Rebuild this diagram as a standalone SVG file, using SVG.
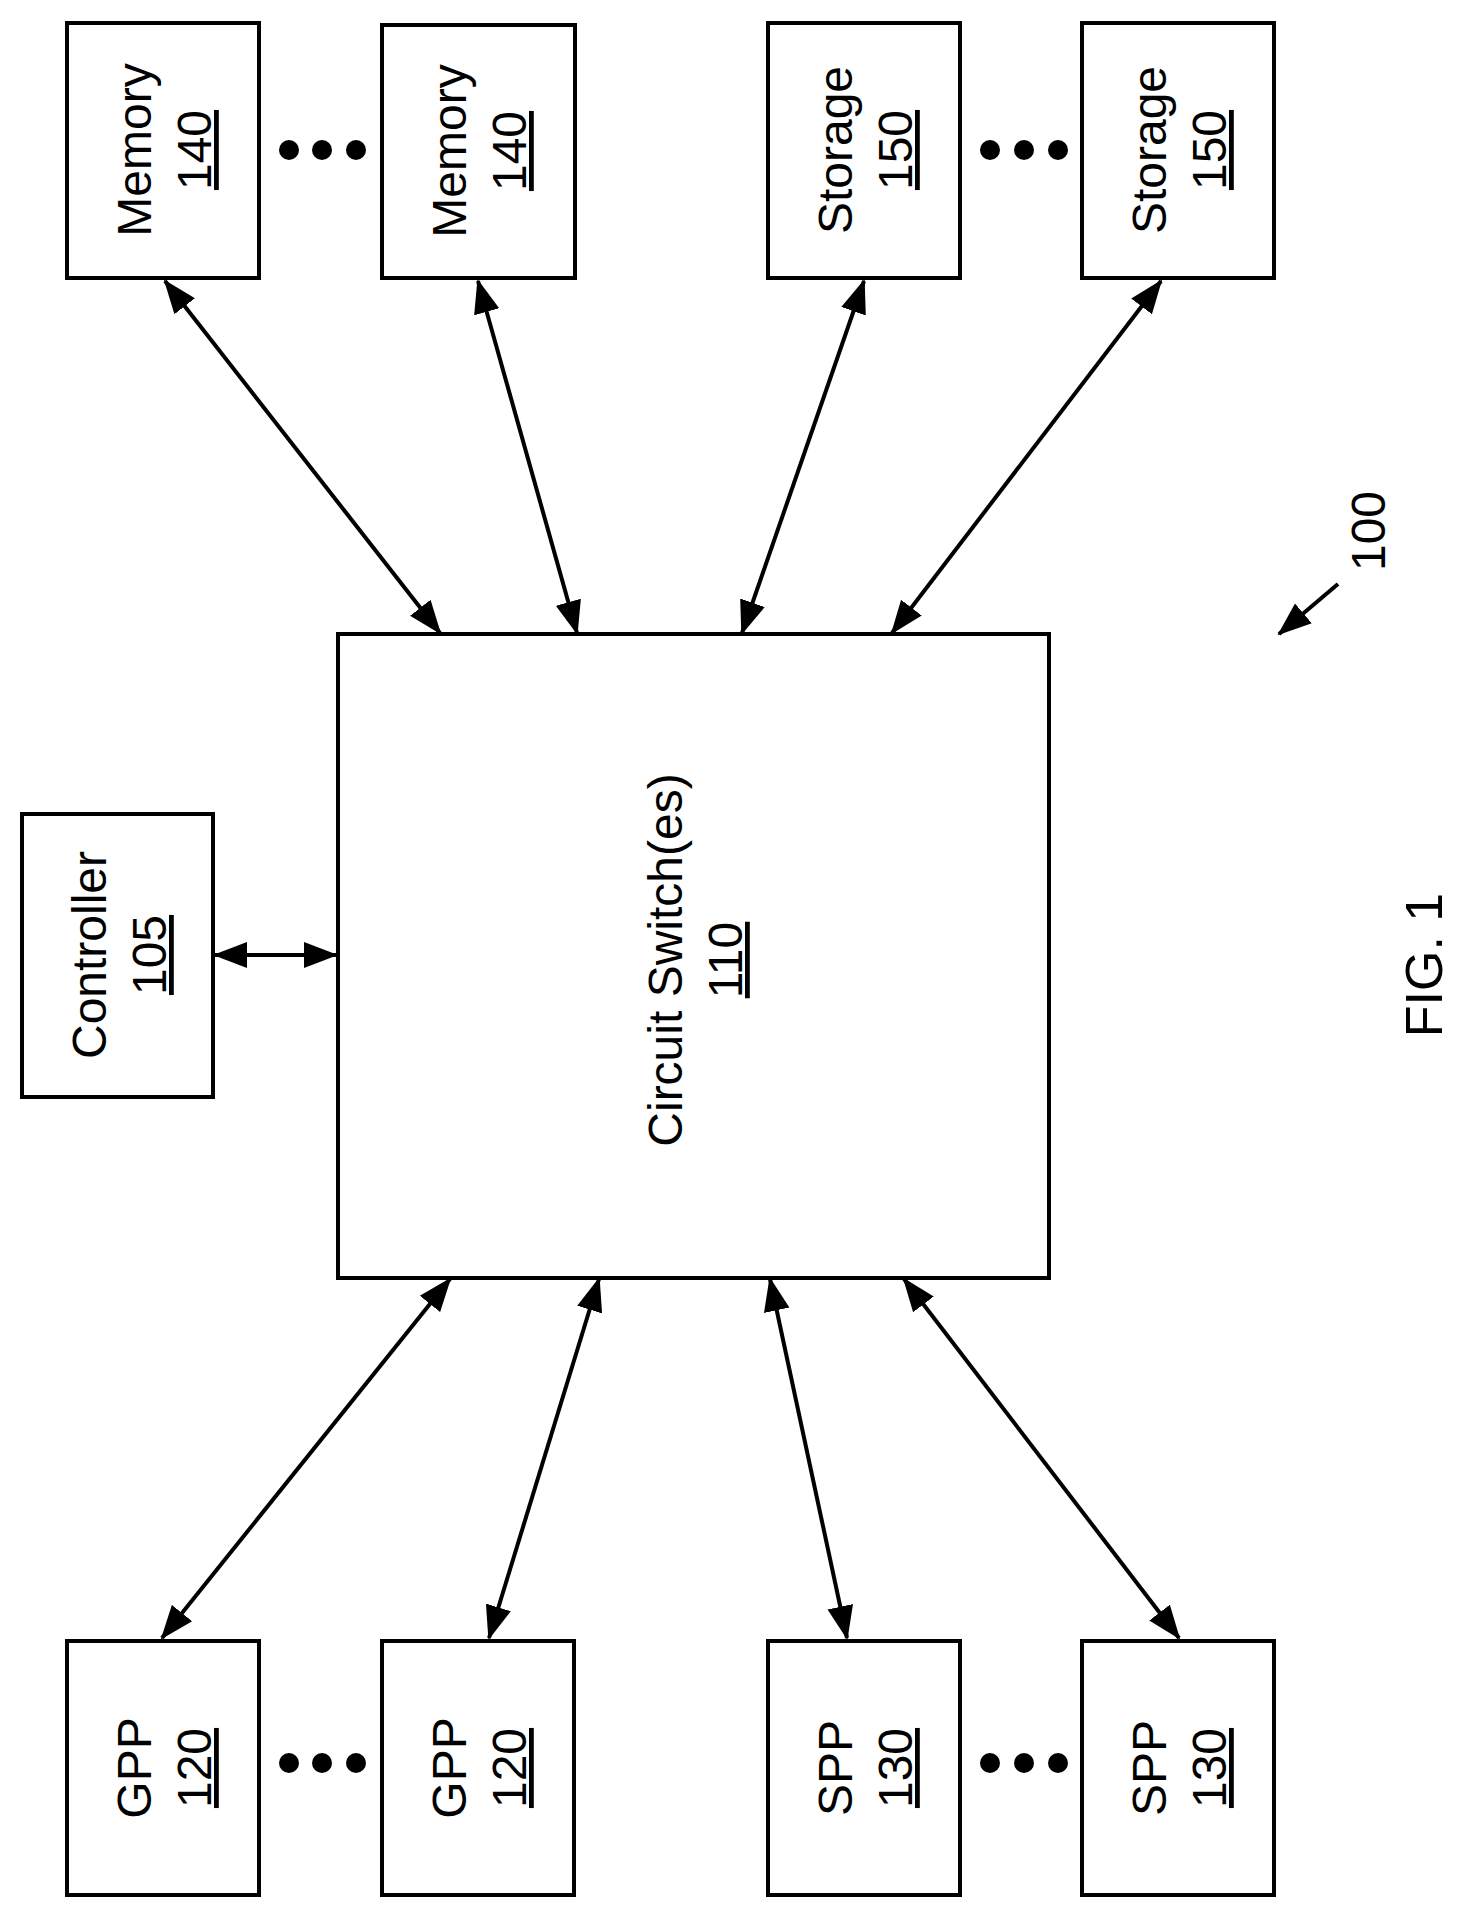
<svg xmlns="http://www.w3.org/2000/svg" width="1466" height="1921" viewBox="0 0 1466 1921">
<style>
.b{fill:#fff;stroke:#000;stroke-width:4}
.t{font-family:"Liberation Sans",Arial,sans-serif;font-size:48px;fill:#000;text-anchor:middle}
.u{text-decoration:underline}
.c{stroke:#000;stroke-width:4;fill:none;marker-start:url(#a);marker-end:url(#a)}
</style>
<defs>
<marker id="a" markerUnits="userSpaceOnUse" markerWidth="34" markerHeight="28" refX="32" refY="13" orient="auto-start-reverse" viewBox="0 0 34 26">
<path d="M0,0 L34,13 L0,26 Z" fill="#000"/>
</marker>
</defs>
<rect width="1466" height="1921" fill="#fff"/>
<g id="mem1"><rect class="b" x="67" y="23" width="192" height="255"/><g transform="translate(151,150) rotate(-90)"><text class="t">Memory</text><text class="t u" y="60">140</text></g></g>
<g id="mem2"><rect class="b" x="382" y="25" width="193" height="253"/><g transform="translate(466,151) rotate(-90)"><text class="t">Memory</text><text class="t u" y="60">140</text></g></g>
<g id="sto1"><rect class="b" x="768" y="23" width="192" height="255"/><g transform="translate(852,150) rotate(-90)"><text class="t">Storage</text><text class="t u" y="60">150</text></g></g>
<g id="sto2"><rect class="b" x="1082" y="23" width="192" height="255"/><g transform="translate(1166,150) rotate(-90)"><text class="t">Storage</text><text class="t u" y="60">150</text></g></g>
<g id="ctrl"><rect class="b" x="22" y="814" width="191" height="283"/><g transform="translate(106,955) rotate(-90)"><text class="t">Controller</text><text class="t u" y="60">105</text></g></g>
<g id="switch"><rect class="b" x="338" y="634" width="711" height="644"/><g transform="translate(682,960) rotate(-90)"><text class="t">Circuit Switch(es)</text><text class="t u" y="60">110</text></g></g>
<g id="gpp1"><rect class="b" x="67" y="1641" width="192" height="254"/><g transform="translate(151,1768) rotate(-90)"><text class="t">GPP</text><text class="t u" y="60">120</text></g></g>
<g id="gpp2"><rect class="b" x="382" y="1641" width="192" height="254"/><g transform="translate(466,1768) rotate(-90)"><text class="t">GPP</text><text class="t u" y="60">120</text></g></g>
<g id="spp1"><rect class="b" x="768" y="1641" width="192" height="254"/><g transform="translate(852,1768) rotate(-90)"><text class="t">SPP</text><text class="t u" y="60">130</text></g></g>
<g id="spp2"><rect class="b" x="1082" y="1641" width="192" height="254"/><g transform="translate(1166,1768) rotate(-90)"><text class="t">SPP</text><text class="t u" y="60">130</text></g></g>
<g id="dots" fill="#000">
<circle cx="289" cy="150" r="10"/><circle cx="322" cy="150" r="10"/><circle cx="356" cy="150" r="10"/>
<circle cx="990" cy="150" r="10"/><circle cx="1024" cy="150" r="10"/><circle cx="1058" cy="150" r="10"/>
<circle cx="289" cy="1763" r="10"/><circle cx="322" cy="1763" r="10"/><circle cx="356" cy="1763" r="10"/>
<circle cx="990" cy="1763" r="10"/><circle cx="1024" cy="1763" r="10"/><circle cx="1058" cy="1763" r="10"/>
</g>
<g id="connectors">
<line class="c" x1="165" y1="281" x2="440" y2="633"/>
<line class="c" x1="478" y1="281" x2="577" y2="633"/>
<line class="c" x1="864" y1="281" x2="742" y2="633"/>
<line class="c" x1="1161" y1="281" x2="892" y2="633"/>
<line class="c" x1="450" y1="1279" x2="162" y2="1638"/>
<line class="c" x1="599" y1="1279" x2="489" y2="1638"/>
<line class="c" x1="770" y1="1279" x2="847" y2="1638"/>
<line class="c" x1="904" y1="1279" x2="1179" y2="1638"/>
<line class="c" x1="215" y1="955" x2="336" y2="955"/>
<line x1="1338" y1="584" x2="1279" y2="634" stroke="#000" stroke-width="4" marker-end="url(#a)"/>
</g>
<g id="labels">
<text class="t" transform="translate(1385,531) rotate(-90)">100</text>
<text class="t" style="font-size:52px" transform="translate(1442,965) rotate(-90)">FIG. 1</text>
</g>
</svg>
